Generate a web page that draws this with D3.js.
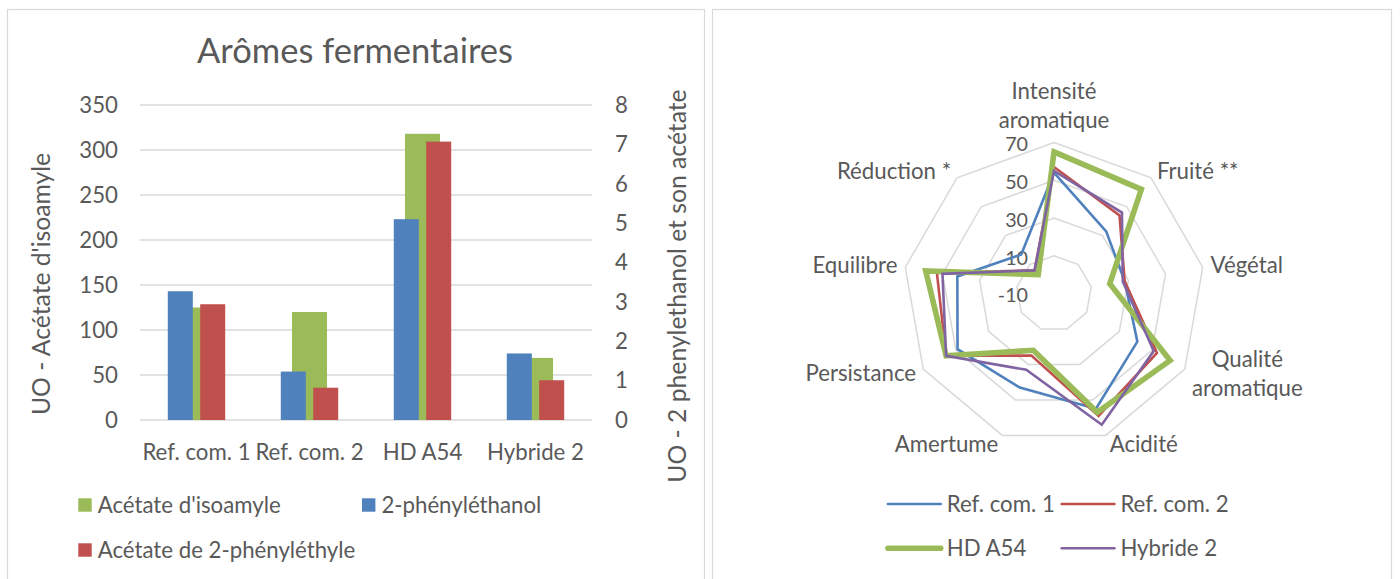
<!DOCTYPE html>
<html><head><meta charset="utf-8">
<script src="https://cdn.jsdelivr.net/npm/d3@7"></script>
<style>
body{margin:0;background:#fff;}
svg{display:block;font-family:Lato,'Open Sans',sans-serif;}
</style></head><body>
<svg id="chart" width="1400" height="579"></svg>
<script>
// ---------- Data: bar chart ----------
const categories = ["Ref. com. 1", "Ref. com. 2", "HD A54", "Hybride 2"];
const isoamyleValues = [125, 120, 318, 69];                 // primary axis
const phenylethanolValues = [3.27, 1.23, 5.10, 1.69];       // secondary axis
const phenylethylAcetateValues = [2.94, 0.82, 7.07, 1.01];  // secondary axis
const leftTicks = [0, 50, 100, 150, 200, 250, 300, 350];
const rightTicks = [0, 1, 2, 3, 4, 5, 6, 7, 8];
const barLegend = ["Acétate d'isoamyle", "2-phényléthanol", "Acétate de 2-phényléthyle"];

// ---------- Data: radar chart ----------
const radarAxes = ["Intensité aromatique", "Fruité **", "Végétal", "Qualité aromatique", "Acidité", "Amertume", "Persistance", "Equilibre", "Réduction *"];
const radarSeriesNames = ["Ref. com. 1", "Ref. com. 2", "HD A54", "Hybride 2"];
const refCom1Values = [54, 33, 28, 41, 55, 43, 49, 42, 17];
const refCom2Values = [57, 44, 28, 53, 59, 25, 56, 53, 6];
const hdA54Values = [65, 62, 20, 61, 57, 22, 56, 59, 3];
const hybride2Values = [55, 46, 27, 51, 64, 33, 56, 50, 6];
const radarTicks = [-10, 10, 30, 50, 70];

// ---------- Styles ----------
const C = {blue: "#4f81bd", red: "#c0504d", green: "#9bbb59", purple: "#8064a2", grid: "#d9d9d9", text: "#595959"};

const svg = d3.select("#chart");

// font calibration (target widths measured on reference)
const probe = svg.append("text").attr("font-size", 100).text("Acétate d'isoamyle");
const pw = probe.node().getComputedTextLength(); probe.remove();
const k = (183 / (pw / 100)) / 24;
const fs = px => (px * k).toFixed(2) + "px";

// panels
svg.append("rect").attr("x", 7.5).attr("y", 9.5).attr("width", 697).attr("height", 620)
  .attr("fill", "#fff").attr("stroke", C.grid).attr("stroke-width", 1.2);
svg.append("rect").attr("x", 712.5).attr("y", 9.5).attr("width", 679).attr("height", 620)
  .attr("fill", "#fff").attr("stroke", C.grid).attr("stroke-width", 1.2);

// ================= BAR CHART =================
const g1 = svg.append("g");
const x = d3.scaleBand().domain(categories).range([140, 592]);
const yL = d3.scaleLinear().domain([0, 350]).range([420, 105]);
const yR = d3.scaleLinear().domain([0, 8]).range([420, 105]);
const xSub = d3.scaleBand().domain(["phenyl", "acetate"]).range([0, x.bandwidth()])
  .paddingInner(0.228).paddingOuter(0.858);
const greenW = x.bandwidth() * 0.31;

// gridlines
g1.append("g").selectAll("line").data(leftTicks).join("line")
  .attr("x1", 140).attr("x2", 592)
  .attr("y1", d => yL(d)).attr("y2", d => yL(d))
  .attr("stroke", C.grid).attr("stroke-width", 1.5);

// left axis labels
g1.append("g").selectAll("text").data(leftTicks).join("text")
  .attr("x", 118).attr("y", d => yL(d)).attr("dy", "0.35em")
  .attr("text-anchor", "end").attr("fill", C.text).attr("font-size", fs(24))
  .text(d => d);
// right axis labels
g1.append("g").selectAll("text").data(rightTicks).join("text")
  .attr("x", 615).attr("y", d => yR(d)).attr("dy", "0.35em")
  .attr("text-anchor", "start").attr("fill", C.text).attr("font-size", fs(24))
  .text(d => d);

// green bars (primary)
g1.append("g").selectAll("rect").data(categories).join("rect")
  .attr("x", (c) => x(c) + x.bandwidth() / 2 - greenW / 2)
  .attr("width", greenW)
  .attr("y", (c, i) => yL(isoamyleValues[i]))
  .attr("height", (c, i) => 420 - yL(isoamyleValues[i]))
  .attr("fill", C.green);
// blue bars (secondary)
g1.append("g").selectAll("rect").data(categories).join("rect")
  .attr("x", c => x(c) + xSub("phenyl"))
  .attr("width", xSub.bandwidth())
  .attr("y", (c, i) => yR(phenylethanolValues[i]))
  .attr("height", (c, i) => 420 - yR(phenylethanolValues[i]))
  .attr("fill", C.blue);
// red bars (secondary)
g1.append("g").selectAll("rect").data(categories).join("rect")
  .attr("x", c => x(c) + xSub("acetate"))
  .attr("width", xSub.bandwidth())
  .attr("y", (c, i) => yR(phenylethylAcetateValues[i]))
  .attr("height", (c, i) => 420 - yR(phenylethylAcetateValues[i]))
  .attr("fill", C.red);

// category labels
g1.append("g").selectAll("text").data(categories).join("text")
  .attr("x", c => x(c) + x.bandwidth() / 2).attr("y", 452).attr("dy", "0.35em")
  .attr("text-anchor", "middle").attr("fill", C.text).attr("font-size", fs(24))
  .text(c => c);

// title
g1.append("text").attr("x", 355).attr("y", 51).attr("dy", "0.35em")
  .attr("text-anchor", "middle").attr("fill", C.text).attr("font-size", fs(37.3))
  .text("Arômes fermentaires");

// axis titles
g1.append("text").attr("transform", "translate(41,284) rotate(-90)").attr("dy", "0.35em")
  .attr("text-anchor", "middle").attr("fill", C.text).attr("font-size", fs(26.67))
  .text("UO - Acétate d'isoamyle");
g1.append("text").attr("transform", "translate(677,286) rotate(-90)").attr("dy", "0.35em")
  .attr("text-anchor", "middle").attr("fill", C.text).attr("font-size", fs(26.67))
  .text("UO - 2 phenylethanol et son acétate");

// legend
const barLegendItems = [
  {name: barLegend[0], color: C.green, x: 78.3, y: 505},
  {name: barLegend[1], color: C.blue, x: 362, y: 505},
  {name: barLegend[2], color: C.red, x: 78.3, y: 550}
];
const lg1 = g1.append("g").selectAll("g").data(barLegendItems).join("g");
lg1.append("rect").attr("x", d => d.x).attr("y", d => d.y - 6.7).attr("width", 13.4).attr("height", 13.4)
  .attr("fill", d => d.color);
lg1.append("text").attr("x", d => d.x + 19.4).attr("y", d => d.y).attr("dy", "0.35em")
  .attr("fill", C.text).attr("font-size", fs(24)).text(d => d.name);

// ================= RADAR CHART =================
const g2 = svg.append("g");
const cx = 1054, cy = 293.5, R = 151;
const r = d3.scaleLinear().domain([-10, 70]).range([0, R]);
const n = radarAxes.length;
const ang = i => -Math.PI / 2 + i * 2 * Math.PI / n;
const pt = (i, v) => [cx + r(v) * Math.cos(ang(i)), cy + r(v) * Math.sin(ang(i))];

// rings
g2.append("g").selectAll("path").data(radarTicks.filter(t => r(t) > 0)).join("path")
  .attr("d", t => d3.line().curve(d3.curveLinearClosed)(d3.range(n).map(i => pt(i, t))))
  .attr("fill", "none").attr("stroke", C.grid).attr("stroke-width", 1.5);

// ring labels
g2.append("g").selectAll("text").data(radarTicks).join("text")
  .attr("x", 1028).attr("y", t => cy - r(t) + 2).attr("dy", "0.35em")
  .attr("text-anchor", "end").attr("fill", C.text).attr("font-size", fs(21.3))
  .text(t => t);

// axis labels
const lineH = 29;
radarAxes.forEach((lab, i) => {
  const a = ang(i), c = Math.cos(a), s = Math.sin(a);
  const [vx, vy] = pt(i, 70);
  const lines = lab.includes(" aromatique") ? lab.split(" ") : [lab];
  let anchor = "middle", tx = vx;
  if (c > 0.1) { anchor = "start"; tx = vx + 2 + 6 * Math.abs(c); }
  else if (c < -0.1) { anchor = "end"; tx = vx - 2 - 6 * Math.abs(c); }
  let blockC;
  if (s < -0.95) blockC = vy - 8 - lines.length * lineH / 2;
  else blockC = vy + 9 * s;
  const t = g2.append("text").attr("fill", C.text).attr("font-size", fs(24)).attr("text-anchor", anchor);
  if (lines.length > 1) {
    // multi-line: center lines on each other
    const tmp = g2.append("text").attr("font-size", fs(24)).text(lines[1]);
    const wMax = d3.max(lines, l => { tmp.text(l); return tmp.node().getComputedTextLength(); });
    tmp.remove();
    let mx = tx;
    if (anchor === "start") mx = tx + wMax / 2;
    if (anchor === "end") mx = tx - wMax / 2;
    t.attr("text-anchor", "middle");
    lines.forEach((l, j) => {
      t.append("tspan").attr("x", mx).attr("y", blockC + (j - (lines.length - 1) / 2) * lineH)
        .attr("dy", "0.35em").text(l);
    });
  } else {
    t.attr("x", tx).attr("y", blockC).attr("dy", "0.35em").text(lab);
  }
});

// series
const radarSeries = [
  {name: radarSeriesNames[0], values: refCom1Values, color: C.blue, w: 2.6},
  {name: radarSeriesNames[1], values: refCom2Values, color: C.red, w: 2.6},
  {name: radarSeriesNames[2], values: hdA54Values, color: C.green, w: 5.6},
  {name: radarSeriesNames[3], values: hybride2Values, color: C.purple, w: 2.6}
];
const radarLine = d3.line().curve(d3.curveLinearClosed);
g2.append("g").selectAll("path").data(radarSeries).join("path")
  .attr("d", d => radarLine(d.values.map((v, i) => pt(i, v))))
  .attr("fill", "none").attr("stroke", d => d.color).attr("stroke-width", d => d.w)
  .attr("stroke-linejoin", "miter").attr("stroke-miterlimit", 4);

// legend
const rLeg = [
  {s: radarSeries[0], x: 888, y: 504},
  {s: radarSeries[1], x: 1061.7, y: 504},
  {s: radarSeries[2], x: 888, y: 548.3},
  {s: radarSeries[3], x: 1061.7, y: 548.3}
];
const lg2 = g2.append("g").selectAll("g").data(rLeg).join("g");
lg2.append("line").attr("x1", d => d.x).attr("x2", d => d.x + 52.7)
  .attr("y1", d => d.y).attr("y2", d => d.y)
  .attr("stroke", d => d.s.color).attr("stroke-width", d => d.s.w)
  .attr("stroke-linecap", "round");
lg2.append("text").attr("x", d => d.x + 58.7).attr("y", d => d.y).attr("dy", "0.35em")
  .attr("fill", C.text).attr("font-size", fs(24)).text(d => d.s.name);
</script>
</body></html>
